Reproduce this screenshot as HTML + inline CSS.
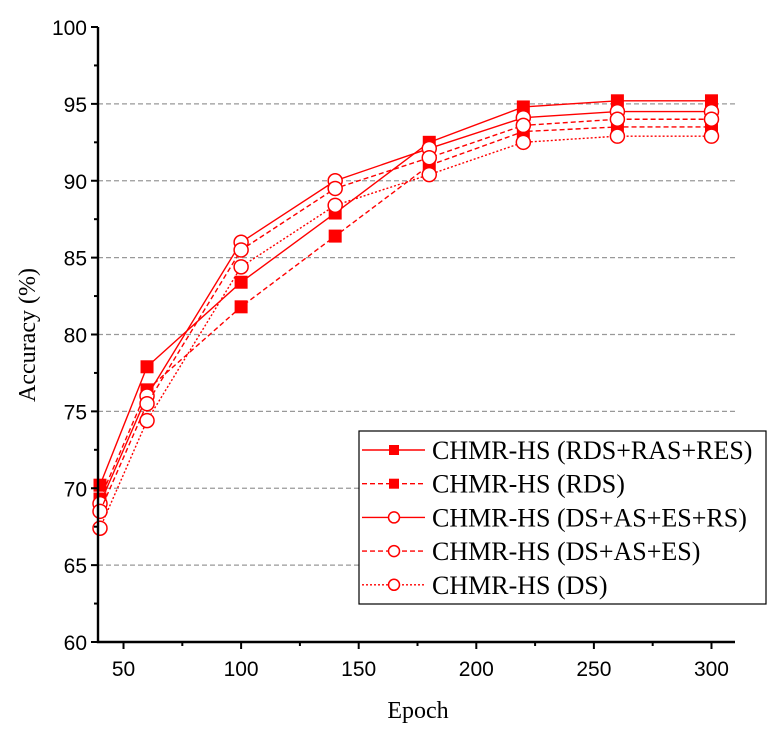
<!DOCTYPE html>
<html><head><meta charset="utf-8">
<style>
html,body{margin:0;padding:0;background:#fff;}
svg{display:block;}
text{font-family:"Liberation Sans",Arial,sans-serif;}
</style></head>
<body>
<svg id="chart" width="783" height="734" viewBox="0 0 783 734" xmlns="http://www.w3.org/2000/svg">
<g id="grid"></g>
<g id="series"></g>
<g id="axes"></g>
<text x="0" y="0" transform="translate(35,335) rotate(-90)" text-anchor="middle" style="font-family:'Liberation Serif',serif;font-size:24px">Accuracy (%)</text>
<text x="418" y="718" text-anchor="middle" style="font-family:'Liberation Serif',serif;font-size:24px">Epoch</text>
<g id="legend"></g>
</svg>
<script>
const epochs = [40, 60, 100, 140, 180, 220, 260, 300];
const seriesNames = ["CHMR-HS (RDS+RAS+RES)", "CHMR-HS (RDS)", "CHMR-HS (DS+AS+ES+RS)", "CHMR-HS (DS+AS+ES)", "CHMR-HS (DS)"];
const accRDSRASRES = [70.2, 77.9, 83.4, 87.9, 92.5, 94.8, 95.2, 95.2];
const accRDS = [69.3, 76.4, 81.8, 86.4, 91.0, 93.2, 93.5, 93.5];
const accDSASESRS = [69.0, 76.0, 86.0, 90.0, 92.1, 94.1, 94.5, 94.5];
const accDSASES = [68.5, 75.5, 85.5, 89.5, 91.5, 93.6, 94.0, 94.0];
const accDS = [67.4, 74.4, 84.4, 88.4, 90.4, 92.5, 92.9, 92.9];
const xTicks = [50, 100, 150, 200, 250, 300];
const xMinor = [75, 125, 175, 225, 275];
const yTicks = [60, 65, 70, 75, 80, 85, 90, 95, 100];
const yMinor = [62.5, 67.5, 72.5, 77.5, 82.5, 87.5, 92.5, 97.5];
const gridVals = [65, 70, 75, 80, 85, 90, 95];

const NS = "http://www.w3.org/2000/svg";
const X0 = 98, X1 = 735, Y0 = 642, Y1 = 27;
const xMin = 39.15, xMax = 310;
const xs = v => X0 + (v - xMin) / (xMax - xMin) * (X1 - X0);
const ys = v => Y0 - (v - 60) / 40 * (Y0 - Y1);
function mk(tag, attrs, parent){const e=document.createElementNS(NS,tag);for(const k in attrs)e.setAttribute(k,attrs[k]);parent.appendChild(e);return e;}
const grid=document.getElementById('grid'), axes=document.getElementById('axes'), ser=document.getElementById('series'), leg=document.getElementById('legend');

gridVals.forEach(v=>{
  const l=mk('line',{x1:X0,x2:X1,y1:ys(v),y2:ys(v),stroke:'#999','stroke-width':1.2,'stroke-dasharray':'5,3'},grid);
  
  
});

const ax=mk('path',{d:`M${X0},${Y1} V${Y0} H${X1}`,fill:'none',stroke:'#000','stroke-width':2.4},axes);


yTicks.forEach(v=>{
  mk('line',{x1:X0-7,x2:X0,y1:ys(v),y2:ys(v),stroke:'#000','stroke-width':2},axes);
  const t=mk('text',{x:X0-11,y:ys(v)+8,'text-anchor':'end','font-size':'21px'},axes);
  t.textContent=v;
  
  
});
yMinor.forEach(v=>mk('line',{x1:X0-4,x2:X0,y1:ys(v),y2:ys(v),stroke:'#000','stroke-width':2},axes));
xTicks.forEach(v=>{
  mk('line',{x1:xs(v),x2:xs(v),y1:Y0,y2:Y0+7,stroke:'#000','stroke-width':2},axes);
  const t=mk('text',{x:xs(v),y:Y0+34,'text-anchor':'middle','font-size':'21px'},axes);
  t.textContent=v;
  
  
});
xMinor.forEach(v=>mk('line',{x1:xs(v),x2:xs(v),y1:Y0,y2:Y0+4,stroke:'#000','stroke-width':2},axes));

const seriesData=[accRDSRASRES,accRDS,accDSASESRS,accDSASES,accDS];
const dashes=['none','5,3','none','5,3','2,2'];
const markers=['square','square','circle','circle','circle'];
function marker(type,x,y,g,s){
  if(type==='square') return mk('rect',{x:x-s,y:y-s,width:2*s,height:2*s,fill:'#f00'},g);
  return mk('circle',{cx:x,cy:y,r:s+0.5,fill:'#fff',stroke:'#f00','stroke-width':1.5},g);
}
seriesData.forEach((d,i)=>{
  const g=mk('g',{},ser);
  
  
  const pts=d.map((v,j)=>xs(epochs[j])+','+ys(v)).join(' ');
  const pl=mk('polyline',{points:pts,fill:'none',stroke:'#f00','stroke-width':1.4,'stroke-dasharray':dashes[i]},g);
  
  
  d.forEach((v,j)=>{
    const m=marker(markers[i],xs(epochs[j]),ys(v),g,6.5);
    
    
  });
});

const box=mk('rect',{x:359,y:431,width:407,height:173,fill:'#fff',stroke:'#000','stroke-width':1.2},leg);


seriesNames.forEach((n,i)=>{
  const y=450+i*33.7;
  const g=mk('g',{},leg);
  
  
  mk('line',{x1:362,x2:425,y1:y,y2:y,stroke:'#f00','stroke-width':1.4,'stroke-dasharray':dashes[i]},g);
  marker(markers[i],394,y,g,5);
  const t=mk('text',{x:432,y:y+9,'font-size':'26px',textLength:0,style:"font-family:'Liberation Serif',serif"},g);
  t.removeAttribute('textLength');
  t.textContent=n;
});
</script>
</body></html>
